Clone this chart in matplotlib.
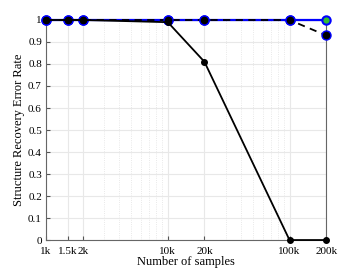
import matplotlib
matplotlib.use("Agg")
import matplotlib.pyplot as plt
from matplotlib.ticker import FixedLocator, FixedFormatter, LogLocator, NullFormatter

plt.rcParams['font.family'] = ['Liberation Serif', 'DejaVu Serif']

samples = [1000, 1500, 2000, 10000, 20000, 100000, 200000]
xlabels = ['1k', '1.5k', '2k', '10k', '20k', '100k', '200k']
err_blue = [1, 1, 1, 1, 1, 1, 1]
err_dashed = [1, 1, 1, 1, 1, 1, 0.93]
err_solid = [1, 1, 1, 0.99, 0.81, 0, 0]
yticks = [0, 0.1, 0.2, 0.3, 0.4, 0.5, 0.6, 0.7, 0.8, 0.9, 1]
ylabels = ['0', '0.1', '0.2', '0.3', '0.4', '0.5', '0.6', '0.7', '0.8', '0.9', '1']

fig = plt.figure(figsize=(3.6, 2.7), dpi=100)
ax = fig.add_axes([0.128, 0.111, 0.778, 0.815])

ax.plot(samples, err_blue, color='#0000ff', lw=1.6, marker='o', ms=6,
        mfc='#33bb33', mec='#0000ff', mew=1.5, zorder=3, clip_on=False)
ax.plot(samples, err_dashed, color='black', lw=1.3, ls=(0, (4, 3)), marker='o', ms=6.5,
        mfc='black', mec='#0000ff', mew=1.0, zorder=4, clip_on=False)
ax.plot(samples, err_solid, color='black', lw=1.3, marker='o', ms=4,
        mfc='black', mec='black', zorder=5, clip_on=False)

ax.set_xscale('log')
ax.set_xlim(1000, 200000)
ax.set_ylim(0, 1)
ax.xaxis.set_major_locator(FixedLocator(samples))
ax.xaxis.set_major_formatter(FixedFormatter(xlabels))
ax.xaxis.set_minor_locator(LogLocator(base=10, subs=range(3, 10)))
ax.xaxis.set_minor_formatter(NullFormatter())
ax.set_yticks(yticks)
ax.set_yticklabels(ylabels)

ax.grid(True, which='major', color='#e8e8e8', lw=0.8)
ax.grid(True, which='minor', axis='x', color='#e2e2e2', lw=0.6, ls=':')
ax.set_axisbelow(True)
ax.tick_params(which='both', direction='in', length=3, labelsize=8, color='#555555', pad=3)
ax.tick_params(axis='x', pad=5)
ax.tick_params(which='minor', length=0)
for s in ax.spines.values():
    s.set_color('#666666')
    s.set_linewidth(0.8)

ax.set_xlabel('Number of samples', fontsize=9, labelpad=0)
ax.set_ylabel('Structure Recovery Error Rate', fontsize=9, labelpad=2)

fig.savefig('out.png', dpi=100, facecolor='white')
